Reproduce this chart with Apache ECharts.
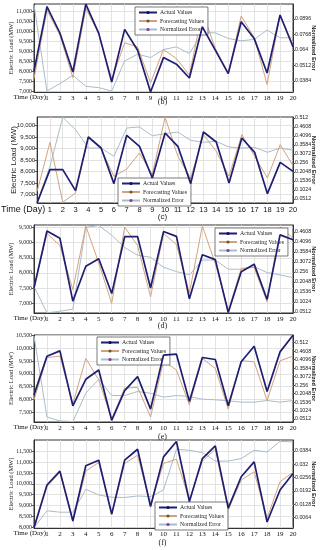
<!DOCTYPE html>
<html><head><meta charset="utf-8">
<script src="https://cdn.jsdelivr.net/npm/echarts@6/dist/echarts.min.js"></script>
<style>html,body{margin:0;padding:0;background:#fff}#c{width:325px;height:550px}</style>
</head><body><div id="c"></div>
<script>
const days = ['0','1','2','3','4','5','6','7','8','9','10','11','12','13','14','15','16','17','18','19','20'];
const seriesNames = ['Actual Values', 'Forecasting Values', 'Normalized Error'];
const captions = ['(b)', '(c)', '(d)', '(e)', '(f)'];

// Panel (b)
const actualB   = [7990,11220,9900,7950,11340,9880,7450,10080,9040,6950,8670,8340,7650,10210,9040,7870,10460,9630,7900,10800,9210];
const forecastB = [7620,11050,9800,7670,11130,9880,7570,9410,9210,7400,9075,8620,7790,10970,9125,7900,10750,9680,7330,10800,9290];
const errorB    = [0.1012,0.0301,0.0362,0.0431,0.0340,0.0329,0.0301,0.0550,0.0605,0.0578,0.0644,0.0666,0.0611,0.0782,0.0782,0.0735,0.0716,0.0727,0.0805,0.0741,0.0741];
const leftTicksB  = [7000,7500,8000,8500,9000,9500,10000,10500,11000];
const rightTicksB = ['0.0384','0.0512','0.064','0.0768','0.0896'];

// Panel (c)
const actualC   = [6630,8078,8078,7160,9505,9025,7467,9578,9097,7714,9680,9097,7467,9723,9287,7496,9461,8835,7030,8398,8005];
const forecastC = [7132,9272,6651,7059,9505,8981,7787,8107,8806,7860,10370,8660,7714,9607,8879,7787,9607,8660,7714,9170,8253];
const errorC    = [0.032,0.237,0.516,0.446,0.341,0.341,0.294,0.455,0.461,0.411,0.423,0.432,0.385,0.374,0.379,0.347,0.341,0.345,0.317,0.341,0.328];
const leftTicksC  = [7000,7500,8000,8500,9000,9500,10000];
const rightTicksC = ['0.0512','0.1024','0.1536','0.2048','0.256','0.3072','0.3584','0.4096','0.4608','0.512'];

// Panel (d)
const actualD   = [7500,9390,9150,7065,8220,8470,7315,9200,9200,7500,9370,9210,7140,8600,8440,6690,8040,8290,7120,9260,9100];
const forecastD = [7520,9305,8905,7445,9555,8330,6990,9520,8905,7205,9305,8940,7335,9555,8310,6740,8150,8180,7035,9520,9155];
const errorD    = [0.182,0.047,0.055,0.066,0.483,0.494,0.444,0.381,0.342,0.331,0.280,0.258,0.241,0.317,0.317,0.270,0.270,0.283,0.253,0.241,0.227];
const leftTicksD  = [7000,7500,8000,8500,9000,9500];
const rightTicksD = ['0.0512','0.1024','0.1536','0.2048','0.256','0.3072','0.3584','0.4096','0.4608'];

// Panel (e)
const actualE   = [8182,9689,9895,7757,8788,9148,7191,8350,8890,7629,9727,9766,7925,9637,9560,7757,9470,10075,8311,9856,10500];
const forecastE = [7989,9637,9689,7835,9599,8762,7242,8440,8478,7320,9509,9148,7796,9599,9212,7629,9509,9470,7963,9509,9689];
const errorE    = [0.552,0.063,0.040,0.036,0.207,0.291,0.193,0.193,0.217,0.207,0.183,0.193,0.187,0.171,0.167,0.161,0.153,0.153,0.163,0.153,0.163];
const leftTicksE  = [7500,8000,8500,9000,9500,10000,10500];
const rightTicksE = ['0.0512','0.1024','0.1536','0.2048','0.256','0.3072','0.3584','0.4096','0.4608','0.512'];

// Panel (f)
const actualF   = [7980,9948,10587,8304,10830,11089,8609,11089,11591,8959,11241,11950,9187,11165,11743,8883,10328,11013,8244,9720,10480];
const forecastF = [8000,9872,10526,8244,10587,10983,8578,10937,11317,9035,10937,11135,9263,11043,11591,8807,10176,10557,8426,10100,10526];
const errorF    = [0.0015,0.0096,0.0089,0.0089,0.0199,0.0172,0.0161,0.0160,0.0167,0.0164,0.0196,0.0392,0.0387,0.0376,0.0335,0.0335,0.0347,0.0387,0.0379,0.0430,0.0427];
const leftTicksF  = [8000,8500,9000,9500,10000,10500,11000,11500];
const rightTicksF = ['0.0064','0.0128','0.0192','0.0256','0.032','0.0384'];

// layout / style per panel
const SERIF = 'Liberation Serif', SANS = 'Liberation Sans';
const panels = [
  {act:actualB, fc:forecastB, err:errorB, lt:leftTicksB, rt:rightTicksB, top:4,   h:88, lmin:6950, lmax:11350, rmin:0.0293, rmax:0.1020, sans:false, lg:{left:135, top:7},   capTop:98},
  {act:actualC, fc:forecastC, err:errorC, lt:leftTicksC, rt:rightTicksC, top:117, h:86, lmin:6621, lmax:10379, rmin:0.0284, rmax:0.5177, sans:true,  lg:{left:118, top:178}, capTop:213},
  {act:actualD, fc:forecastD, err:errorD, lt:leftTicksD, rt:rightTicksD, top:225, h:88, lmin:6671, lmax:9588,  rmin:0.0461, rmax:0.4963, sans:false, lg:{left:215, top:228}, capTop:322},
  {act:actualE, fc:forecastE, err:errorE, lt:leftTicksE, rt:rightTicksE, top:335, h:87, lmin:7126, lmax:10513, rmin:0.0333, rmax:0.5578, sans:false, lg:{left:97,  top:337}, capTop:433},
  {act:actualF, fc:forecastF, err:errorF, lt:leftTicksF, rt:rightTicksF, top:440, h:88, lmin:7970, lmax:12017, rmin:0.0013, rmax:0.04365, sans:false, lg:{left:155, top:502}, capTop:539}
];

const grid = [], xAxis = [], yAxis = [], series = [], legend = [], title = [];
panels.forEach((p, i) => {
  const fam = p.sans ? SANS : SERIF;
  grid.push({left:32, right:29, top:p.top, height:p.h, show:true, borderColor:'#333', borderWidth:1, backgroundColor:'#fff'});
  xAxis.push({
    type:'category', gridIndex:i, data:days, boundaryGap:false,
    axisLine:{show:true, lineStyle:{color:'#333', width:1}},
    axisTick:{show:false},
    axisLabel:{interval:0, margin:3, fontSize:p.sans?7.5:7, fontFamily:fam, color:'#111',
      formatter:(v, idx) => idx === 0 ? '' : v},
    splitLine:{show:true, interval:0, lineStyle:{color:'#dcdcdc', width:0.8}},
    name:'Time (Day)', nameLocation:'start', nameGap:p.sans?-8:-12, nameMoveOverlap:false,
    nameTextStyle:{fontFamily:fam, fontSize:p.sans?9:7, color:'#111', verticalAlign:'top', padding:[p.sans?2:2,0,0,0]}
  });
  yAxis.push({
    type:'value', gridIndex:i, position:'left', min:p.lmin, max:p.lmax,
    axisLine:{show:true, lineStyle:{color:'#333', width:1}},
    axisTick:{show:true, length:2.5, customValues:p.lt, lineStyle:{color:'#555'}},
    axisLabel:{customValues:p.lt, margin:2, fontSize:p.sans?6:5.8, fontFamily:fam, color:'#222',
      formatter:v => Number(v).toLocaleString('en-US')},
    splitLine:{show:true, lineStyle:{color:'#dcdcdc', width:0.8}},
    name:'Electric Load (MW)', nameLocation:'middle', nameGap:p.sans?19:19, nameRotate:90, nameMoveOverlap:false,
    nameTextStyle:{fontFamily:fam, fontSize:p.sans?8:6.5, color:'#222'}
  });
  const rvals = p.rt.map(Number);
  yAxis.push({
    type:'value', gridIndex:i, position:'right', min:p.rmin, max:p.rmax,
    axisLine:{show:true, lineStyle:{color:'#333', width:1}},
    axisTick:{show:true, length:2, customValues:rvals, lineStyle:{color:'#555'}},
    axisLabel:{customValues:rvals, margin:2, fontSize:5.3, fontFamily:SANS, color:'#222',
      formatter:v => String(+Number(v).toFixed(4))},
    splitLine:{show:false},
    name:'Normalized Error', nameLocation:'middle', nameGap:18, nameRotate:-90, nameMoveOverlap:false,
    nameTextStyle:{fontFamily:SANS, fontSize:p.sans?6:5.6, fontWeight:'bold', color:'#222'}
  });
  const common = {type:'line', xAxisIndex:i, symbol:'circle', symbolSize:3, showSymbol:false, animation:false, silent:true};
  series.push(Object.assign({}, common, {name:seriesNames[2], yAxisIndex:2*i+1, data:p.err, z:2,
    lineStyle:{color:'#a9bdc9', width:1}, itemStyle:{color:'#8a3a9a'}}));
  series.push(Object.assign({}, common, {name:seriesNames[1], yAxisIndex:2*i, data:p.fc, z:3,
    lineStyle:{color:'#d2a27e', width:1}, itemStyle:{color:'#6b5a2a'}}));
  series.push(Object.assign({}, common, {name:seriesNames[0], yAxisIndex:2*i, data:p.act, z:4,
    lineStyle:{color:'#1e1e72', width:1.7}, itemStyle:{color:'#10105a'}}));
  legend.push({
    orient:'vertical', left:p.lg.left, top:p.lg.top, itemWidth:18, itemHeight:4, itemGap:2.5,
    padding:[2.5,4,2.5,3], backgroundColor:'#fff', borderColor:'#444', borderWidth:0.7,
    selectedMode:false, textStyle:{fontFamily:SERIF, fontSize:5.8, color:'#222', padding:[0,0,0,-2]},
    data:[
      {name:seriesNames[0], itemStyle:{color:'#10105a'}},
      {name:seriesNames[1], itemStyle:{color:'#6b5a2a'}},
      {name:seriesNames[2], itemStyle:{color:'#8a3a9a'}}
    ]
  });
  title.push({text:captions[i], left:'center', top:p.capTop, padding:0,
    textStyle:{fontFamily:p.sans?SANS:SERIF, fontSize:8, fontWeight:'normal', color:'#222'}});
});

const chart = echarts.init(document.getElementById('c'), null, {renderer:'canvas'});
chart.setOption({animation:false, backgroundColor:'#fff', grid, xAxis, yAxis, series, legend, title});
</script>
</body></html>
